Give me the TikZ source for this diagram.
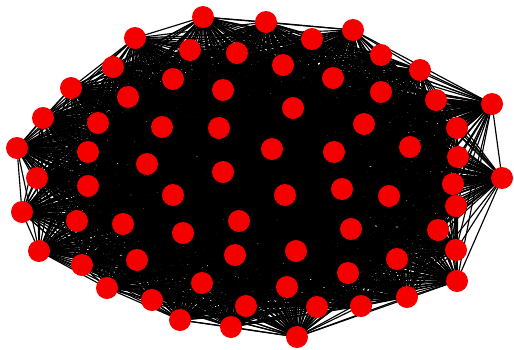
\documentclass[tikz,border=0pt]{standalone}
\usetikzlibrary{backgrounds}
\begin{document}
\begin{tikzpicture}[x=1pt,y=-1pt,
  vertex/.style={circle,fill={rgb,255:red,245;green,0;blue,0},draw=none,minimum size=22pt,inner sep=0pt},
  edge/.style={draw=black,line width=1.15pt}]
\useasboundingbox (0,0) rectangle (514,349);
\foreach \k/\x/\y in {
1/203/17,2/266/22,3/135/38,4/190/50,5/237/53,6/312/39,7/353/30,8/381/55,
9/113/67,10/173/79,11/223/90,12/283/65,13/333/78,14/420/70,15/71/88,16/128/97,
17/381/92,18/436/100,19/492/104,20/43/118,21/98/123,22/162/127,23/219/128,24/293/108,
25/364/124,26/457/128,27/17/148,28/88/152,29/147/164,30/223/172,31/272/149,32/334/152,
33/410/147,34/458/157,35/37/178,36/502/178,37/88/186,38/173/195,39/285/195,40/342/189,
41/389/196,42/453/184,43/22/212,44/77/221,45/123/224,46/239/221,47/183/233,48/351/229,
49/438/230,50/456/206,51/39/251,52/82/265,53/137/260,54/235/255,55/296/251,56/397/259,
57/456/250,58/348/273,59/457/281,60/107/288,61/202/283,62/287/287,63/407/297,64/152/300,
65/246/306,66/317/307,67/361/306,68/180/320,69/231/327,70/297/337}
  \node[vertex] (n\k) at (\x,\y) {};
\begin{pgfonlayer}{background}
\foreach \i in {1,...,70}{
  \foreach \j in {\i,...,70}{
    \path[edge] (n\i.center) -- (n\j.center);
  }
}
\end{pgfonlayer}
\end{tikzpicture}
\end{document}
